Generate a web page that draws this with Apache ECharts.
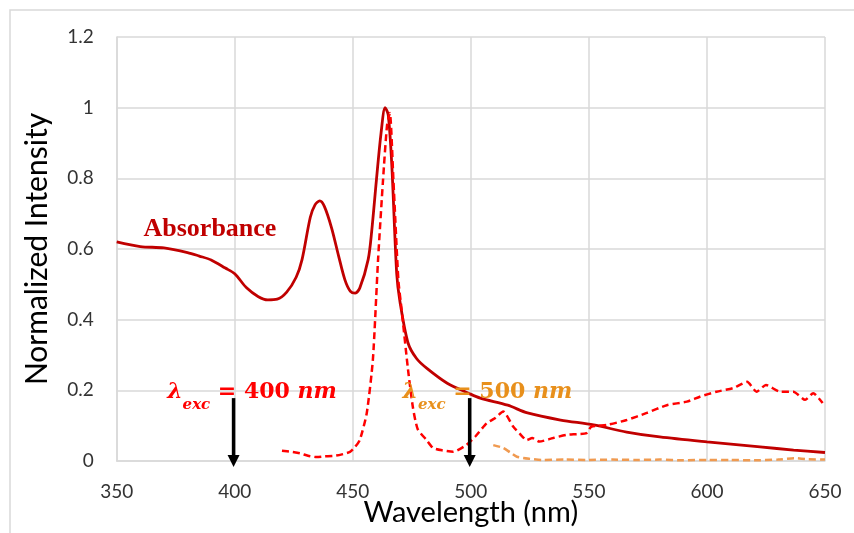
<!DOCTYPE html>
<html>
<head>
<meta charset="utf-8">
<script src="https://cdn.jsdelivr.net/npm/echarts@6/dist/echarts.min.js"></script>
<style>
html,body{margin:0;padding:0;background:#fff;}
#c{width:854px;height:533px;}
</style>
</head>
<body>
<div id="c"></div>
<script>
// Absorbance spectrum [wavelength nm, normalized]
const absorbance = [
  [350,0.62],[360,0.607],[370,0.603],[380,0.59],[385,0.58],[390,0.569],[396,0.546],[400,0.53],
  [405,0.49],[410,0.465],[414,0.456],[418,0.458],[422,0.478],[426,0.52],[428.5,0.57],
  [432,0.69],[434,0.725],[436,0.736],[438,0.72],[441,0.66],[444,0.58],[446.7,0.512],
  [449,0.48],[451,0.475],[453,0.49],[456.5,0.57],[458,0.65],[460,0.795],[462,0.93],
  [463.7,1.0],[465,0.98],[466.5,0.84],[468.6,0.53],[470,0.45],[473.4,0.334],[477,0.29],
  [481.4,0.262],[490,0.22],[499,0.192],[504,0.178],[515.6,0.158],[524,0.136],[538,0.116],
  [552,0.102],[566,0.082],[580,0.068],[600,0.054],[622.5,0.04],[636.7,0.031],[650,0.024]
];
// Emission, excitation at 400 nm
const emission400 = [
  [420,0.029],[424,0.026],[427.6,0.022],[431,0.015],[434.7,0.011],[438,0.013],[441.6,0.014],
  [445,0.018],[448.8,0.026],[451,0.04],[453,0.06],[455.9,0.135],[458.5,0.286],[460.7,0.57],
  [462.8,0.795],[464.5,0.95],[465.7,0.985],[467.2,0.795],[469.3,0.512],[470.7,0.427],
  [473.4,0.258],[475.5,0.15],[477.5,0.09],[481.3,0.059],[484,0.037],[488,0.03],[492.5,0.026],
  [498,0.045],[502,0.07],[506.7,0.107],[510,0.12],[513.7,0.14],[518,0.097],[521,0.075],
  [523.7,0.059],[526,0.065],[529,0.055],[534.8,0.065],[540.6,0.074],[545,0.076],[549,0.079],
  [551,0.097],[557.6,0.102],[566,0.116],[574.5,0.136],[583,0.158],[591.5,0.168],[597,0.182],
  [604,0.196],[611,0.206],[617,0.224],[621,0.196],[625,0.215],[631,0.196],[636.6,0.196],
  [641.6,0.173],[645,0.192],[649,0.164]
];
// Emission, excitation at 500 nm
const emission500 = [
  [509.5,0.045],[513.7,0.037],[516.5,0.025],[519.5,0.012],[525,0.006],[530,0.003],[540,0.004],
  [550,0.003],[560,0.004],[570,0.003],[580,0.004],[590,0.002],[600,0.003],[610,0.003],
  [620,0.002],[630,0.004],[637,0.008],[643,0.005],[650,0.004]
];
// Excitation arrows: [wavelength, top value, tip value]
const arrows = [[399.5,0.178,-0.017],[499.5,0.178,-0.017]];
// Annotation labels
const labelAbs = {text:'Absorbance', at:[389.5,0.657]};
const labelExc = [
  {wl:'400', at:[407.3,0.205], color:'#ff0000'},
  {wl:'500', at:[507,0.205], color:'#e8901c'}
];

const chart = echarts.init(document.getElementById('c'));
const gridColor = '#d9d9d9';
const option = {
  animation:false,
  backgroundColor:'#fff',
  grid:{left:116.7,right:29,top:37,bottom:72,containLabel:false,outerBoundsMode:'none'},
  xAxis:{
    type:'value',min:350,max:650,interval:50,
    name:'Wavelength (nm)',nameLocation:'middle',nameGap:37,nameMoveOverlap:false,
    nameTextStyle:{fontFamily:'Lato',fontSize:29,color:'#000'},
    axisLine:{show:true,lineStyle:{color:gridColor,width:1.5}},
    axisTick:{show:false},
    axisLabel:{fontFamily:'Lato',fontSize:19,color:'#333',margin:21},
    splitLine:{show:true,lineStyle:{color:gridColor,width:1.5}}
  },
  yAxis:{
    type:'value',min:0,max:1.2,interval:0.2,
    name:'Normalized Intensity',nameLocation:'middle',nameGap:64,nameMoveOverlap:false,
    nameTextStyle:{fontFamily:'Lato',fontSize:30,color:'#000'},
    axisLine:{show:true,lineStyle:{color:gridColor,width:1.5}},
    axisTick:{show:false},
    axisLabel:{fontFamily:'Lato',fontSize:19,color:'#333',margin:23},
    splitLine:{show:true,lineStyle:{color:gridColor,width:1.5}}
  },
  series:[
    {type:'line',data:absorbance,showSymbol:false,smooth:0.3,
     lineStyle:{color:'#c00000',width:2.8},z:3},
    {type:'line',data:emission400,showSymbol:false,smooth:0.2,
     lineStyle:{color:'#ff0000',width:2.5,type:[7,4]},z:4},
    {type:'line',data:emission500,showSymbol:false,smooth:0.2,
     lineStyle:{color:'#f09a50',width:2.5,type:[7,4]},z:2}
  ]
};
chart.setOption(option);

function px(p){return chart.convertToPixel({gridIndex:0},p);}
const graphics = [];
// outer chart-area border
graphics.push({type:'rect',shape:{x:10,y:10,width:900,height:600},
  style:{fill:null,stroke:gridColor,lineWidth:1.5},z:0,silent:true});
// arrows
arrows.forEach(a=>{
  const t = px([a[0],a[1]]), b = px([a[0],a[2]]);
  graphics.push({type:'line',shape:{x1:t[0],y1:t[1],x2:b[0],y2:b[1]-10},
    style:{stroke:'#000',lineWidth:3.5},z:20});
  graphics.push({type:'polygon',shape:{points:[[b[0]-6,b[1]-12],[b[0]+6,b[1]-12],[b[0],b[1]]]},
    style:{fill:'#000'},z:20});
});
// Absorbance label
const pa = px(labelAbs.at);
graphics.push({type:'text',x:pa[0],y:pa[1],z:10,style:{
  text:labelAbs.text,fill:'#c00000',font:'bold 26px "Liberation Serif"',
  align:'center',verticalAlign:'middle'}});
// excitation labels
labelExc.forEach(l=>{
  const p = px(l.at);
  graphics.push({type:'text',x:p[0],y:p[1],z:10,style:{
    text:'{l|λ}{s|exc}{m| = '+l.wl+' }{l|nm}',
    align:'center',verticalAlign:'middle',
    rich:{
      l:{fontFamily:'DejaVu Serif',fontStyle:'italic',fontWeight:'bold',fontSize:22,fill:l.color,lineHeight:30,verticalAlign:'bottom'},
      s:{fontFamily:'DejaVu Serif',fontStyle:'italic',fontWeight:'bold',fontSize:15,fill:l.color,lineHeight:30,verticalAlign:'bottom',padding:[0,0,-9,0]},
      m:{fontFamily:'DejaVu Serif',fontWeight:'bold',fontSize:22,fill:l.color,lineHeight:30,verticalAlign:'bottom'}
    }}});
});
chart.setOption({graphic:graphics});
</script>
</body>
</html>
